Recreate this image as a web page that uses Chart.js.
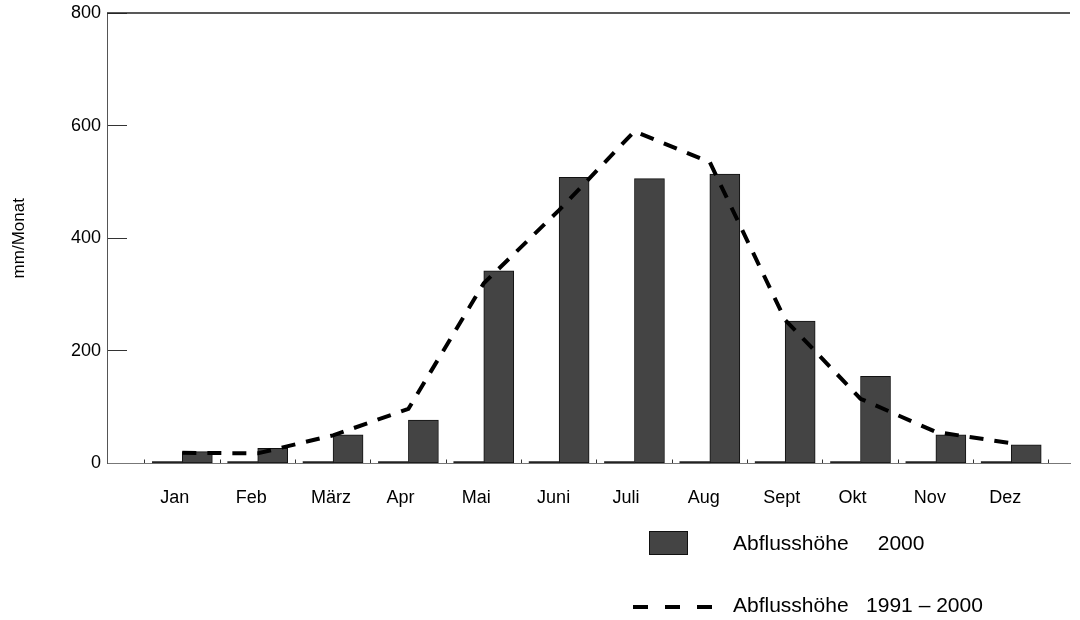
<!DOCTYPE html>
<html><head><meta charset="utf-8">
<script src="https://cdn.jsdelivr.net/npm/chart.js@4/dist/chart.umd.min.js"></script>
<style>html,body{margin:0;padding:0;background:#fff}#wrap{width:1080px;height:620px}</style>
</head><body><div id="wrap"><canvas id="c" width="1080" height="620"></canvas></div>
<script>
// ---- Daten ----
const monate = ['Jan','Feb','März','Apr','Mai','Juni','Juli','Aug','Sept','Okt','Nov','Dez'];
const abfluss2000 = [21, 27, 51, 77, 342, 508, 506, 514, 253, 155, 51, 33];
const abflussMittel = [19, 18, 50, 97, 320, 450, 590, 535, 255, 115, 56, 36];
const leereReihe = [0, 0, 0, 0, 0, 0, 0, 0, 0, 0, 0, 0];
const yTickWerte = [0, 200, 400, 600, 800];
const labelBalken = 'Abflusshöhe     2000';
const labelLinie = 'Abflusshöhe   1991 – 2000';
const yTitel = 'mm/Monat';

const FONT = '"Liberation Sans", Arial, Helvetica, sans-serif';
const toXY = arr => arr.map((v, i) => ({x: i, y: v}));

const rahmenPlugin = {
  id: 'rahmen',
  afterDraw(chart) {
    const {ctx, chartArea: a} = chart;
    ctx.save();
    ctx.strokeStyle = '#222';
    ctx.lineWidth = 1.5;
    ctx.beginPath();
    ctx.moveTo(a.left, a.top);
    ctx.lineTo(a.right, a.top);
    ctx.stroke();
    ctx.restore();
  }
};

const legendePlugin = {
  id: 'legende',
  afterDraw(chart) {
    const ctx = chart.ctx;
    const balken = chart.data.datasets[2];
    const linie = chart.data.datasets[0];
    ctx.save();
    ctx.fillStyle = balken.backgroundColor;
    ctx.fillRect(649, 531, 39, 24);
    ctx.strokeStyle = balken.borderColor;
    ctx.lineWidth = 1;
    ctx.strokeRect(649.5, 531.5, 38, 23);
    ctx.strokeStyle = linie.borderColor;
    ctx.lineWidth = linie.borderWidth;
    ctx.setLineDash([15, 17]);
    ctx.beginPath();
    ctx.moveTo(633, 607);
    ctx.lineTo(712, 607);
    ctx.stroke();
    ctx.setLineDash([]);
    ctx.fillStyle = '#000';
    ctx.font = '21px ' + FONT;
    ctx.textBaseline = 'middle';
    ctx.textAlign = 'left';
    ctx.fillText(balken.label, 733, 544);
    ctx.fillText(linie.label, 733, 606);
    ctx.restore();
  }
};

new Chart(document.getElementById('c'), {
  type: 'bar',
  data: {
    datasets: [
      {
        type: 'line',
        label: labelLinie,
        data: toXY(abflussMittel),
        borderColor: '#000',
        borderWidth: 4,
        borderDash: [14, 11],
        borderCapStyle: 'butt',
        tension: 0,
        pointRadius: 0,
        fill: false
      },
      {
        label: 'leer',
        data: toXY(leereReihe),
        backgroundColor: '#222',
        borderWidth: 0,
        minBarLength: 2,
        barThickness: 30
      },
      {
        label: labelBalken,
        data: toXY(abfluss2000),
        backgroundColor: '#444444',
        borderColor: '#111',
        borderWidth: 1,
        borderSkipped: false,
        barThickness: 30
      }
    ]
  },
  options: {
    responsive: false,
    animation: false,
    devicePixelRatio: 1,
    layout: {padding: {left: 0, right: 10, top: 13, bottom: 0}},
    plugins: {legend: {display: false}, tooltip: {enabled: false}},
    scales: {
      x: {
        type: 'linear',
        min: -1,
        max: 11.78,
        offset: false,
        afterFit: s => { s.height = 156.5; s.paddingLeft = 0; s.paddingRight = 0; },
        afterBuildTicks: s => {
          const t = [];
          for (let i = 0; i < monate.length; i++) {
            t.push({value: i - 0.5});
            t.push({value: i});
          }
          t.push({value: monate.length - 0.5});
          s.ticks = t;
        },
        border: {display: true, color: '#777', width: 1},
        grid: {
          offset: false,
          drawOnChartArea: false,
          drawTicks: true,
          tickLength: -4,
          tickWidth: 1,
          tickColor: c => (c.tick && Number.isInteger(c.tick.value)) ? 'rgba(0,0,0,0)' : '#333'
        },
        ticks: {
          autoSkip: false,
          maxRotation: 0,
          minRotation: 0,
          align: 'start',
          labelOffset: -22,
          padding: 28,
          color: '#000',
          font: {family: FONT, size: 18},
          callback: v => Number.isInteger(v) ? (monate[v] ?? '') : ''
        }
      },
      y: {
        min: 0,
        max: 800,
        afterFit: s => { s.width = 107; s.paddingTop = 0; s.paddingBottom = 0; },
        afterBuildTicks: s => { s.ticks = yTickWerte.map(v => ({value: v})); },
        border: {display: true, color: '#555', width: 1},
        grid: {
          drawOnChartArea: false,
          drawTicks: true,
          tickLength: -20,
          tickWidth: 1,
          tickColor: '#333'
        },
        ticks: {
          padding: 26,
          color: '#000',
          font: {family: FONT, size: 18}
        },
        title: {
          display: true,
          text: yTitel,
          color: '#000',
          font: {family: FONT, size: 17},
          padding: {top: 9, bottom: 0}
        }
      }
    }
  },
  plugins: [rahmenPlugin, legendePlugin]
});
</script>
</body></html>
